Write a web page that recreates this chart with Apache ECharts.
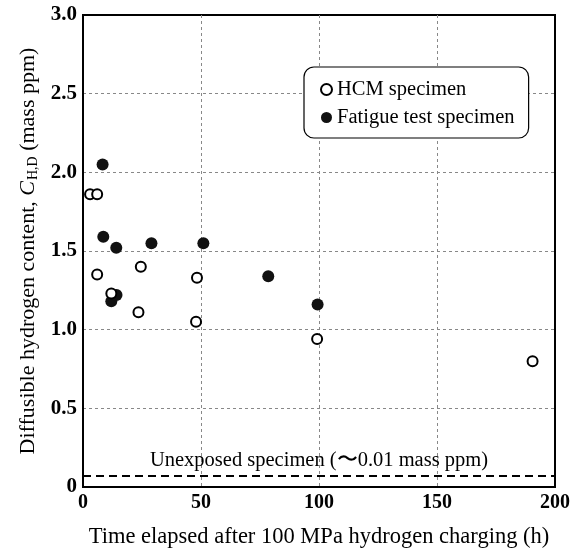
<!DOCTYPE html>
<html>
<head>
<meta charset="utf-8">
<script src="https://cdn.jsdelivr.net/npm/echarts@6/dist/echarts.min.js"></script>
<style>html,body{margin:0;padding:0;background:#fff}#c{width:586px;height:555px}</style>
</head>
<body>
<div id="c"></div>
<script>
const hcmX = [3, 6, 6, 12, 24.5, 23.5, 48.3, 47.9, 99.2, 190.5];
const hcmY = [1.86, 1.86, 1.35, 1.23, 1.40, 1.11, 1.33, 1.05, 0.94, 0.80];
const fatX = [8.3, 8.6, 12, 14.2, 14.1, 29, 51, 78.5, 99.4];
const fatY = [2.05, 1.59, 1.18, 1.22, 1.52, 1.55, 1.55, 1.34, 1.16];
const unexposedLevel = 0.065;
const xTicks = [0, 50, 100, 150, 200];
const yTicks = [0, 0.5, 1.0, 1.5, 2.0, 2.5, 3.0];

const font = 'Liberation Serif, Times New Roman, serif';
const chart = echarts.init(document.getElementById('c'), null, {renderer: 'canvas'});
chart.setOption({
  animation: false,
  backgroundColor: '#fff',
  textStyle: {fontFamily: font},
  grid: {left: 83, right: 31, top: 15, bottom: 68, show: true, borderColor: '#000', borderWidth: 2, backgroundColor: 'transparent'},
  legend: {
    left: 304, top: 67,
    orient: 'vertical',
    padding: [12, 14, 10, 16],
    itemGap: 7,
    itemWidth: 11, itemHeight: 11,
    borderColor: '#000', borderWidth: 1.2, borderRadius: 10,
    backgroundColor: '#fff',
    textStyle: {fontFamily: font, fontSize: 20.5, color: '#000'},
    data: ['HCM specimen', 'Fatigue test specimen']
  },
  xAxis: {
    type: 'value', min: 0, max: 200, interval: 50,
    name: 'Time elapsed after 100 MPa hydrogen charging (h)',
    nameLocation: 'middle', nameGap: 39,
    nameTextStyle: {fontFamily: font, fontSize: 22.5, color: '#000'},
    axisLine: {show: true, lineStyle: {color: '#000', width: 2}},
    axisTick: {show: false},
    axisLabel: {fontFamily: font, fontSize: 20, fontWeight: 'bold', color: '#000', margin: 6,
      formatter: v => xTicks.includes(v) ? String(v) : ''},
    splitLine: {show: true, showMinLine: false, showMaxLine: false, lineStyle: {color: '#888', type: [3, 3], width: 1}}
  },
  yAxis: {
    type: 'value', min: 0, max: 3, interval: 0.5,
    name: '{a|Diffusible hydrogen content, }{i|C}{s|H,D}{a| (mass ppm)}',
    nameLocation: 'middle', nameGap: 41, nameRotate: 90,
    nameTextStyle: {
      fontFamily: font, fontSize: 22, color: '#000',
      rich: {
        a: {fontFamily: font, fontSize: 22, color: '#000'},
        i: {fontFamily: font, fontSize: 22, fontStyle: 'italic', color: '#000'},
        s: {fontFamily: font, fontSize: 14, color: '#000', padding: [10, 0, 0, 1]}
      }
    },
    axisLine: {show: true, lineStyle: {color: '#000', width: 2}},
    axisTick: {show: false},
    axisLabel: {fontFamily: font, fontSize: 21, fontWeight: 'bold', color: '#000', margin: 6,
      formatter: v => v === 0 ? '0' : v.toFixed(1)},
    splitLine: {show: true, showMinLine: false, showMaxLine: false, lineStyle: {color: '#888', type: [3, 3], width: 1}}
  },
  series: [
    {
      name: 'HCM specimen', type: 'scatter', symbol: 'circle', symbolSize: 10,
      itemStyle: {color: '#fff', borderColor: '#000', borderWidth: 2, opacity: 1},
      data: hcmX.map((x, i) => [x, hcmY[i]]),
      z: 5
    },
    {
      name: 'Fatigue test specimen', type: 'scatter', symbol: 'circle', symbolSize: 12,
      itemStyle: {color: '#111', borderColor: '#111', borderWidth: 0, opacity: 1},
      data: fatX.map((x, i) => [x, fatY[i]]),
      z: 4,
      markLine: {
        silent: true, symbol: 'none',
        lineStyle: {color: '#000', type: [8, 5], width: 2},
        label: {show: true, position: 'insideMiddleTop', distance: 5,
          formatter: 'Unexposed specimen (\u301c0.01 mass ppm)',
          fontFamily: font, fontSize: 20.5, color: '#000'},
        data: [{yAxis: unexposedLevel}]
      }
    }
  ]
});
</script>
</body>
</html>
